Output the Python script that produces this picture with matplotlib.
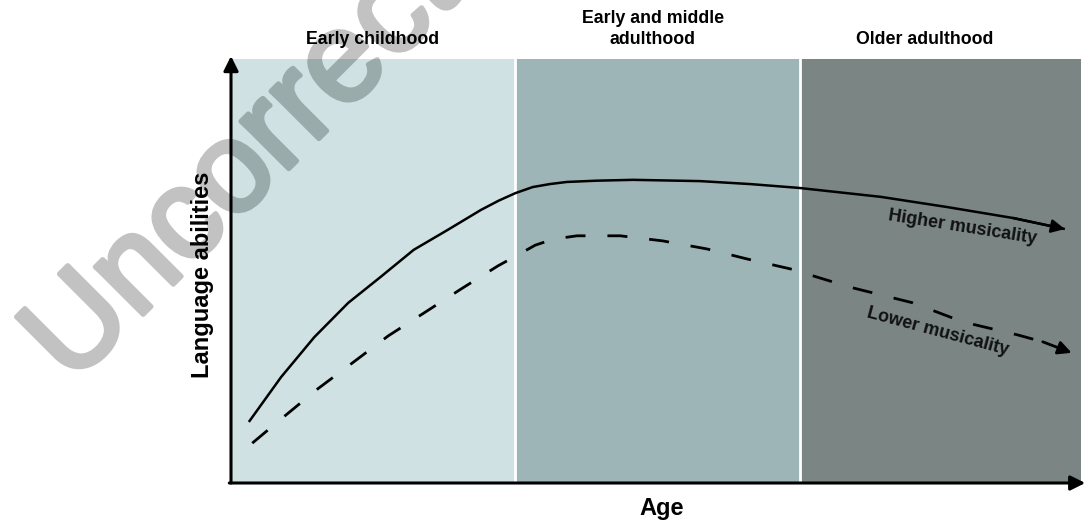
import matplotlib.pyplot as plt
import matplotlib.patheffects as pe

plt.rcParams['font.family'] = ['Liberation Sans', 'DejaVu Sans']

# age periods (age axis in arbitrary units 0-100)
region_edges = [0, 33.4, 66.9, 100]
region_colors = ['#cfe1e2', '#9db5b6', '#7a8584']
region_names = ['Early childhood', 'Early and middle\nadulthood', 'Older adulthood']
region_label_x = [16.6, 49.6, 81.6]

# higher musicality (solid line)
high_age = [2.1, 5.9, 9.8, 13.8, 17.6, 21.5, 25.5, 29.4, 31.5, 33.5, 35.5, 37.5, 39.5,
            43.0, 47.3, 55.2, 61.1, 66.8, 76.4, 84.2, 92.0, 98.1]
high_lang = [14.4, 25.0, 34.4, 42.5, 48.6, 55.0, 59.7, 64.4, 66.6, 68.4, 69.8, 70.5, 71.0,
             71.3, 71.5, 71.2, 70.5, 69.6, 67.5, 65.1, 62.5, 59.9]

# lower musicality (dashed line)
low_age = [2.5, 6.2, 10.2, 14.4, 18.5, 22.7, 27.1, 31.4, 33.3, 35.8, 37.9, 40.7,
           45.8, 50.8, 56.0, 60.8, 65.8, 72.8, 80.2, 86.1, 92.6, 95.5, 98.9]
low_lang = [9.4, 15.6, 22.2, 28.5, 34.7, 40.1, 45.8, 51.2, 53.3, 56.1, 57.5, 58.3,
            58.3, 57.1, 55.2, 52.8, 50.5, 46.2, 42.5, 38.0, 34.9, 33.3, 30.7]

fig = plt.figure(figsize=(10.85, 5.23), dpi=100)
ax = fig.add_axes([231 / 1085, 40 / 523, 850 / 1085, 424 / 523])
ax.set_xlim(0, 100)
ax.set_ylim(0, 100)

spans = []
for i in range(3):
    sp = ax.axvspan(region_edges[i], region_edges[i + 1], color=region_colors[i], lw=0, zorder=0.5)
    spans.append(sp)
    ax.text(region_label_x[i], 102.6, region_names[i], ha='center', va='bottom',
            fontsize=12.8, fontweight='bold', linespacing=1.3, clip_on=False, zorder=6)
for e in region_edges[1:-1]:
    ax.axvline(e, color='white', lw=2, zorder=0.8)

# watermark
wm_x, wm_y = 0.066, 0.262
wm_out = '#c2c2c2'
wm_in = '#99abab'
fig.text(wm_x, wm_y, 'Uncorrected', rotation=45, rotation_mode='anchor', ha='left', va='baseline',
         fontsize=92, color=wm_out, zorder=-1,
         path_effects=[pe.withStroke(linewidth=3.5, foreground=wm_out)])
wm = ax.text(wm_x, wm_y, 'Uncorrected', transform=fig.transFigure, rotation=45, rotation_mode='anchor',
             ha='left', va='baseline', fontsize=92, color=wm_in, zorder=1.5,
             path_effects=[pe.withStroke(linewidth=3.5, foreground=wm_in)])
wm.set_clip_on(True)
wm.set_clip_path(spans[0])

# curves
ax.plot(high_age, high_lang, color='black', lw=1.8, zorder=3, solid_capstyle='butt')
ax.annotate('', xy=(high_age[-1], high_lang[-1]), xytext=(high_age[-2], high_lang[-2]),
            arrowprops=dict(arrowstyle='-|>', color='black', lw=1.8, mutation_scale=20,
                            shrinkA=0, shrinkB=0), zorder=3)
ax.plot(low_age[:-1], low_lang[:-1], color='black', lw=2, ls=(0, (7.2, 7.9)), zorder=3)
ax.annotate('', xy=(low_age[-1], low_lang[-1]), xytext=(low_age[-2], low_lang[-2]),
            arrowprops=dict(arrowstyle='-|>', color='black', lw=2, mutation_scale=20,
                            shrinkA=0, shrinkB=0), zorder=3)

ax.text(86.0, 60.4, 'Higher musicality', rotation=-9, ha='center', va='center',
        fontsize=13, fontweight='bold', color='#111111', zorder=4)
ax.text(83.2, 35.8, 'Lower musicality', rotation=-15, ha='center', va='center',
        fontsize=13, fontweight='bold', color='#111111', zorder=4)

# axes with arrows
for s in ax.spines.values():
    s.set_visible(False)
ax.set_xticks([])
ax.set_yticks([])
ax.annotate('', xy=(0, 1.007), xytext=(0, 0), xycoords='axes fraction',
            arrowprops=dict(arrowstyle='-|>', color='black', lw=2.2, mutation_scale=22,
                            shrinkA=0, shrinkB=0), annotation_clip=False, zorder=5)
ax.annotate('', xy=(1.005, 0), xytext=(-0.002, 0), xycoords='axes fraction',
            arrowprops=dict(arrowstyle='-|>', color='black', lw=2.2, mutation_scale=22,
                            shrinkA=0, shrinkB=0), annotation_clip=False, zorder=5)

fig.text(203 / 1085, 1 - 275 / 523, 'Language abilities', rotation=90, ha='center', va='center',
         fontsize=17, fontweight='bold')
fig.text(662 / 1085, 1 - 508 / 523, 'Age', ha='center', va='center', fontsize=17, fontweight='bold')

fig.savefig('out.png', dpi=100)
